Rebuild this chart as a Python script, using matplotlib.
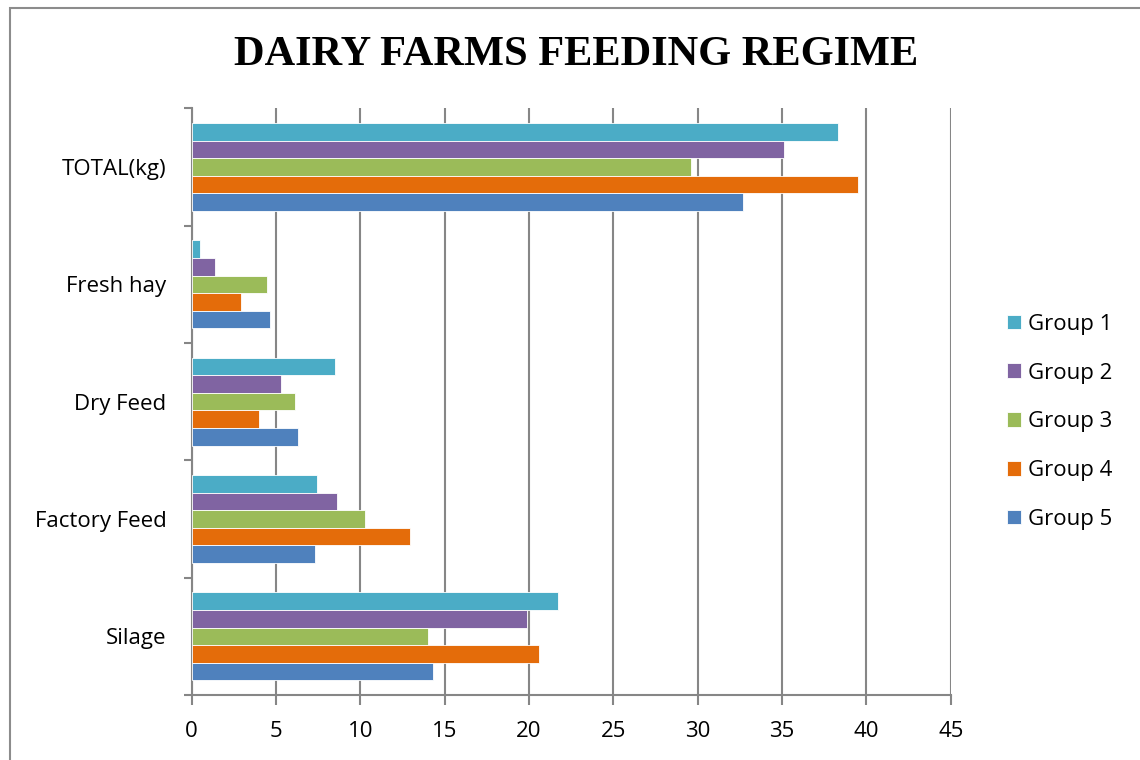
import numpy as np
import matplotlib.pyplot as plt
from matplotlib.patches import Rectangle

categories = ['Silage', 'Factory Feed', 'Dry Feed', 'Fresh hay', 'TOTAL(kg)']
groups = ['Group 1', 'Group 2', 'Group 3', 'Group 4', 'Group 5']

# values per group, in the same order as categories
group1 = [21.75, 7.43, 8.52, 0.5, 38.3]
group2 = [19.88, 8.6, 5.3, 1.42, 35.1]
group3 = [14.03, 10.26, 6.13, 4.47, 29.6]
group4 = [20.6, 12.93, 4.02, 2.96, 39.5]
group5 = [14.33, 7.32, 6.33, 4.65, 32.7]
series = [group1, group2, group3, group4, group5]

colors = ['#4BACC6', '#8064A2', '#9BBB59', '#E46C0A', '#4F81BD']
xticks = list(range(0, 50, 5))

plt.rcParams['font.family'] = ['Open Sans', 'DejaVu Sans']

fig = plt.figure(figsize=(11.4, 7.6), dpi=100)
ax = fig.add_axes([0.168, 0.0855, 0.666, 0.772])

# thin grey frame around the chart area
fig.patches.append(Rectangle((10 / 1140, -0.05), 1.2, 0.05 + 752 / 760,
                             transform=fig.transFigure, fill=False,
                             edgecolor='#8c8c8c', linewidth=1.5))

y = np.arange(len(categories))
h = 0.15
handles = []
for i, (vals, c) in enumerate(zip(series, colors)):
    b = ax.barh(y + (2 - i) * h, vals, height=h, color=c,
                edgecolor='white', linewidth=0.6, zorder=3)
    handles.append(b)

ax.set_xlim(0, 45)
ax.set_ylim(-0.5, len(categories) - 0.5)
ax.set_xticks(xticks)
ax.set_xticklabels([str(t) for t in xticks], fontsize=16)
ax.set_yticks(y)
ax.set_yticklabels(categories, fontsize=16)
ax.set_yticks(np.arange(-0.5, len(categories), 1), minor=True)

ax.tick_params(axis='y', which='major', length=0, pad=18)
ax.tick_params(axis='y', which='minor', length=6, width=1.5, color='#868686')
ax.tick_params(axis='x', length=7, width=1.5, color='#868686', pad=12)

ax.grid(axis='x', color='#868686', linewidth=1.5, zorder=0)
for s in ['top', 'right']:
    ax.spines[s].set_visible(False)
for s in ['left', 'bottom']:
    ax.spines[s].set_color('#868686')
    ax.spines[s].set_linewidth(1.5)

fig.text(576 / 1140, 1 - 55 / 760, 'DAIRY FARMS FEEDING REGIME',
         ha='center', va='center', fontsize=30.5, fontweight='bold',
         family='Liberation Serif')

fig.legend(handles, groups, loc='center left', bbox_to_anchor=(0.883, 0.445),
           frameon=False, fontsize=16, handlelength=0.65, handleheight=0.65,
           handletextpad=0.3, labelspacing=1.25, borderpad=0, borderaxespad=0)

fig.savefig('out.png', dpi=100)
